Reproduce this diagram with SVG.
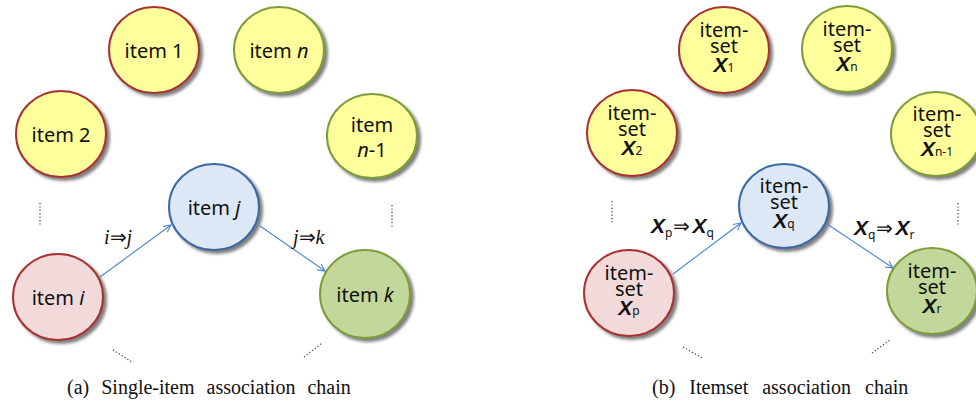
<svg xmlns="http://www.w3.org/2000/svg" width="976" height="405" viewBox="0 0 976 405">
<defs>
<filter id="sh" x="-20%" y="-20%" width="150%" height="150%">
<feGaussianBlur in="SourceAlpha" stdDeviation="1.5" result="b"/>
<feOffset in="b" dx="3" dy="3" result="o"/>
<feFlood flood-color="#555" flood-opacity="0.75"/>
<feComposite in2="o" operator="in" result="s"/>
<feMerge><feMergeNode in="s"/><feMergeNode in="SourceGraphic"/></feMerge>
</filter>
<marker id="ah" viewBox="0 0 10 10" refX="9" refY="5" markerWidth="9" markerHeight="9" orient="auto" markerUnits="userSpaceOnUse">
<path d="M1,1 L9,5 L1,9" fill="none" stroke="#4a86d0" stroke-width="1.2"/>
</marker>
</defs>
<style>
ellipse{stroke-width:2;filter:url(#sh)}
.y{fill:#ffff9c}
.r{stroke:#a83232}
.g{stroke:#7d9c3a}
.b{fill:#dce8f6;stroke:#3b6aa3}
.p{fill:#f3dada;stroke:#a83232}
.gg{fill:#c4d79b;stroke:#7d9c3a}
.t{font-family:"Noto Sans","Open Sans",sans-serif;font-size:20px;fill:#111;text-anchor:middle}
.x{font-family:"Liberation Sans",Arial,sans-serif;font-weight:bold;font-style:italic;font-size:21px}
.s{font-family:"Noto Sans",sans-serif;font-size:12px;font-weight:normal;font-style:normal}
.lbl{font-family:"Liberation Serif","Times New Roman",serif;font-size:20px;fill:#111}
.cap{font-family:"Liberation Serif","Times New Roman",serif;font-size:20px;fill:#111;word-spacing:7px}
.dot{stroke:#444;stroke-width:1.3;stroke-dasharray:1.2 2.2;fill:none}
.arr{stroke:#4a86d0;stroke-width:1.1;fill:none;marker-end:url(#ah)}
.it{font-style:italic}
</style>

<!-- Panel (a) -->
<g id="a-item1"><ellipse class="y r" cx="154" cy="50" rx="45" ry="43"/><text class="t" x="154" y="58">item 1</text></g>
<g id="a-itemn"><ellipse class="y g" cx="279" cy="50" rx="45" ry="43"/><text class="t" x="279" y="58">item <tspan class="it">n</tspan></text></g>
<g id="a-item2"><ellipse class="y r" cx="61" cy="134" rx="45" ry="43"/><text class="t" x="61" y="142">item 2</text></g>
<g id="a-itemn1"><ellipse class="y g" cx="372" cy="136" rx="45" ry="42"/><text class="t" x="372" y="132">item<tspan x="372" dy="25"><tspan class="it">n</tspan>-1</tspan></text></g>
<g id="a-itemj"><ellipse class="b" cx="214" cy="207" rx="45" ry="43"/><text class="t" x="214" y="215">item <tspan class="it">j</tspan></text></g>
<g id="a-itemi"><ellipse class="p" cx="58" cy="297" rx="45" ry="43"/><text class="t" x="58" y="305">item <tspan class="it">i</tspan></text></g>
<g id="a-itemk"><ellipse class="gg" cx="365" cy="294" rx="45" ry="44"/><text class="t" x="365" y="302">item <tspan class="it">k</tspan></text></g>

<!-- Panel (b) -->
<g id="b-x1"><ellipse class="y r" cx="724" cy="50" rx="45" ry="43"/><text class="t" x="724" y="37">item-<tspan x="724" dy="16">set</tspan><tspan x="724" dy="19"><tspan class="x">X</tspan><tspan class="s">1</tspan></tspan></text></g>
<g id="b-xn"><ellipse class="y g" cx="847" cy="49" rx="45" ry="43"/><text class="t" x="847" y="36">item-<tspan x="847" dy="16">set</tspan><tspan x="847" dy="19"><tspan class="x">X</tspan><tspan class="s">n</tspan></tspan></text></g>
<g id="b-x2"><ellipse class="y r" cx="632" cy="133" rx="45" ry="43"/><text class="t" x="632" y="120">item-<tspan x="632" dy="16">set</tspan><tspan x="632" dy="19"><tspan class="x">X</tspan><tspan class="s">2</tspan></tspan></text></g>
<g id="b-xn1"><ellipse class="y g" cx="936" cy="134" rx="45" ry="42"/><text class="t" x="937" y="121">item-<tspan x="937" dy="16">set</tspan><tspan x="937" dy="19"><tspan class="x">X</tspan><tspan class="s">n-1</tspan></tspan></text></g>
<g id="b-xq"><ellipse class="b" cx="784" cy="206" rx="45" ry="42"/><text class="t" x="784" y="193">item-<tspan x="784" dy="16">set</tspan><tspan x="784" dy="19"><tspan class="x">X</tspan><tspan class="s">q</tspan></tspan></text></g>
<g id="b-xp"><ellipse class="p" cx="629" cy="293" rx="45" ry="43"/><text class="t" x="629" y="280">item-<tspan x="629" dy="16">set</tspan><tspan x="629" dy="19"><tspan class="x">X</tspan><tspan class="s">p</tspan></tspan></text></g>
<g id="b-xr"><ellipse class="gg" cx="932" cy="291" rx="45" ry="43"/><text class="t" x="932" y="278">item-<tspan x="932" dy="16">set</tspan><tspan x="932" dy="19"><tspan class="x">X</tspan><tspan class="s">r</tspan></tspan></text></g>

<g id="connectors">
<line class="arr" x1="100" y1="277" x2="171" y2="225"/>
<line class="arr" x1="260" y1="226" x2="325" y2="271"/>
<line class="arr" x1="673" y1="274" x2="741" y2="223"/>
<line class="arr" x1="827" y1="224" x2="893" y2="268"/>
</g>

<g id="labels">
<text class="lbl" x="104" y="244"><tspan class="it">i</tspan>⇒<tspan class="it">j</tspan></text>
<text class="lbl" x="293" y="244"><tspan class="it">j</tspan>⇒<tspan class="it">k</tspan></text>
<text class="lbl" x="651" y="233"><tspan class="x">X</tspan><tspan class="s" dy="4">p</tspan><tspan dy="-4" dx="1">⇒</tspan><tspan class="x" dx="2">X</tspan><tspan class="s" dy="4">q</tspan></text>
<text class="lbl" x="854" y="235"><tspan class="x">X</tspan><tspan class="s" dy="4">q</tspan><tspan dy="-4" dx="1">⇒</tspan><tspan class="x" dx="2">X</tspan><tspan class="s" dy="4">r</tspan></text>
</g>

<g id="dots">
<line class="dot" x1="40" y1="203" x2="40" y2="226"/>
<line class="dot" x1="392" y1="205" x2="392" y2="228"/>
<line class="dot" x1="113" y1="350" x2="132" y2="362"/>
<line class="dot" x1="304" y1="357" x2="322" y2="343"/>
<line class="dot" x1="612" y1="201" x2="612" y2="224"/>
<line class="dot" x1="958" y1="203" x2="958" y2="225"/>
<line class="dot" x1="683" y1="347" x2="702" y2="358"/>
<line class="dot" x1="872" y1="353" x2="890" y2="340"/>
</g>

<text class="cap" x="67" y="394">(a) Single-item association chain</text>
<text class="cap" x="652" y="394" style="word-spacing:9px">(b) Itemset association chain</text>
</svg>
